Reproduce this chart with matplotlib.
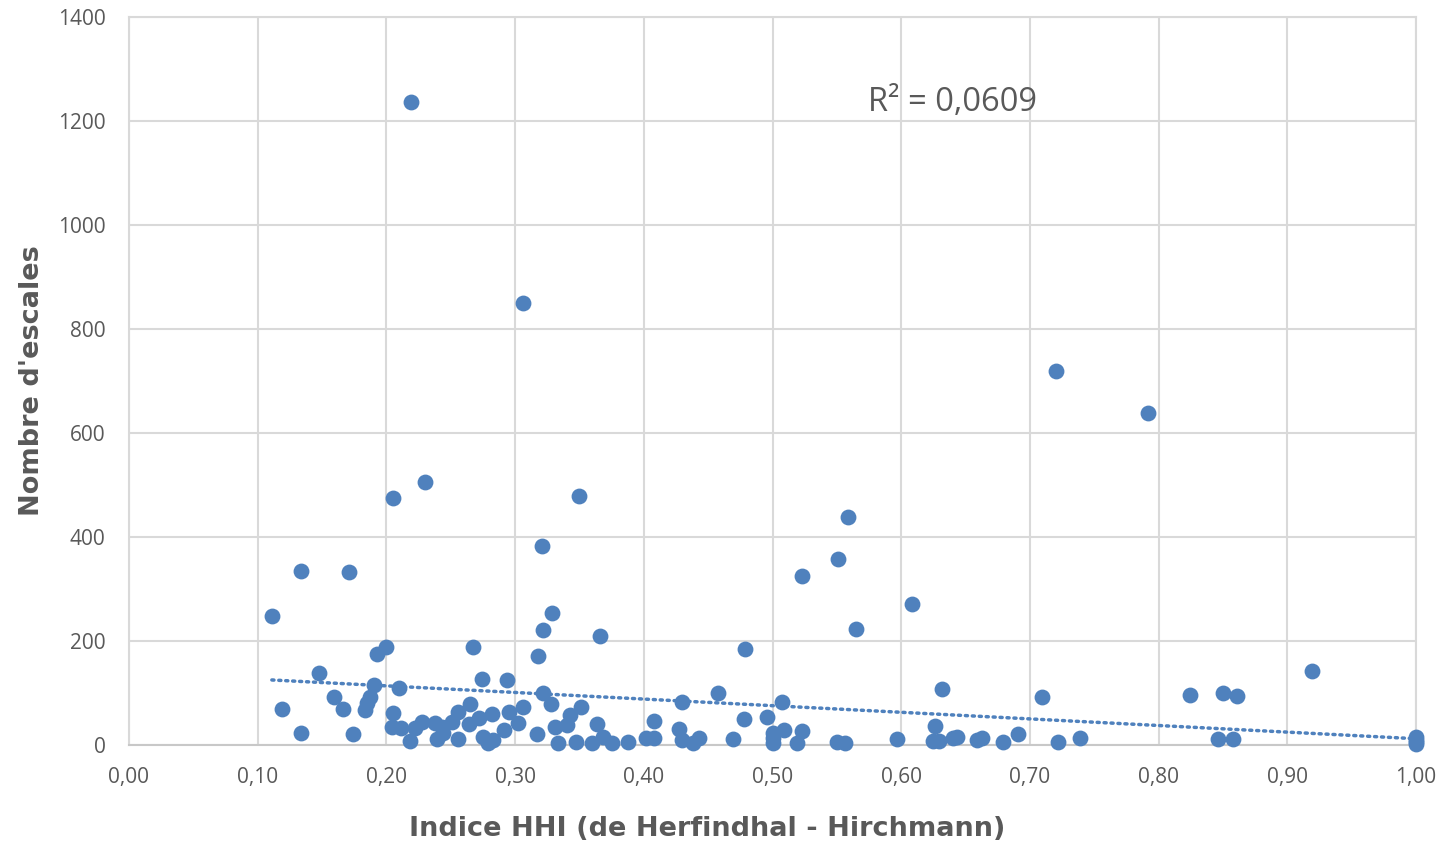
import matplotlib.pyplot as plt
import numpy as np

# =========================
# DADOS
# =========================

hhi = [0.111, 0.119, 0.134, 0.134, 0.148, 0.159, 0.166, 0.171, 0.174, 0.183,
       0.185, 0.187, 0.190, 0.193, 0.200, 0.205, 0.205, 0.204, 0.210, 0.211,
       0.218, 0.219, 0.222, 0.228, 0.230, 0.238, 0.239, 0.244, 0.243, 0.251,
       0.256, 0.256, 0.264, 0.265, 0.267, 0.272, 0.274, 0.275, 0.279, 0.282,
       0.283, 0.291, 0.294, 0.295, 0.302, 0.306, 0.306, 0.317, 0.318, 0.322,
       0.321, 0.322, 0.328, 0.329, 0.331, 0.333, 0.340, 0.343, 0.347, 0.350,
       0.351, 0.360, 0.364, 0.366, 0.368, 0.375, 0.388, 0.402, 0.408, 0.408,
       0.427, 0.430, 0.430, 0.438, 0.443, 0.458, 0.469, 0.478, 0.479, 0.496,
       0.500, 0.500, 0.500, 0.507, 0.509, 0.519, 0.523, 0.523, 0.550, 0.556,
       0.551, 0.559, 0.565, 0.597, 0.608, 0.625, 0.629, 0.626, 0.632, 0.640,
       0.643, 0.659, 0.663, 0.679, 0.691, 0.709, 0.720, 0.722, 0.739, 0.792,
       0.824, 0.846, 0.850, 0.858, 0.861, 0.919, 1.000, 1.000, 1.000, 1.000]

escales = [248, 69, 23, 335, 138, 92, 69, 333, 21, 67,
           81, 92, 115, 175, 188, 475, 62, 35, 110, 33,
           8, 1237, 33, 44, 506, 42, 12, 23, 35, 44,
           63, 12, 40, 79, 188, 52, 127, 15, 4, 60,
           10, 29, 125, 63, 42, 73, 850, 21, 171, 221,
           383, 100, 79, 254, 35, 4, 38, 58, 6, 479,
           73, 4, 40, 210, 15, 4, 6, 13, 13, 46,
           31, 83, 10, 4, 13, 100, 12, 50, 185, 54,
           23, 4, 13, 83, 29, 4, 27, 325, 6, 4,
           358, 438, 223, 12, 271, 8, 8, 37, 108, 13,
           15, 10, 13, 6, 21, 92, 719, 6, 13, 638,
           96, 12, 100, 12, 94, 142, 2, 5, 10, 15]

# linha de tendência (extremos)
trend_x = [0.111, 1.0]
trend_y = [125, 12]

x_ticks = np.arange(0, 1.01, 0.1)
y_ticks = np.arange(0, 1401, 200)
r2_label = "R² = 0,0609"

blue = "#4F81BD"
gray_text = "#595959"
grid_color = "#D9D9D9"

# =========================
# GRÁFICO
# =========================

fig = plt.figure(figsize=(14.51, 8.48), dpi=100)
ax = fig.add_axes([0.0889, 0.1215, 0.887, 0.8585])

ax.scatter(hhi, escales, s=130, color=blue, zorder=3, linewidths=0,
           clip_on=False)

ax.plot(trend_x, trend_y, color=blue, linewidth=2.5,
        linestyle=(0, (0.6, 1.4)), dash_capstyle="round", zorder=4)

ax.text(0.640, 1236, r2_label, fontsize=23.5, color=gray_text,
        ha="center", va="center", family="Open Sans")

ax.set_xlim(0, 1)
ax.set_ylim(0, 1400)
ax.set_xticks(x_ticks)
ax.set_yticks(y_ticks)
ax.set_xticklabels([f"{v:.2f}".replace(".", ",") for v in x_ticks])
ax.set_yticklabels([f"{int(v)}" for v in y_ticks])
ax.tick_params(length=0, labelsize=15, labelcolor=gray_text)
ax.tick_params(axis="y", pad=17)
ax.tick_params(axis="x", pad=16)
for lab in ax.get_xticklabels() + ax.get_yticklabels():
    lab.set_family("Open Sans")

ax.grid(True, color=grid_color, linewidth=1.5, zorder=0)
ax.set_axisbelow(True)
for s in ax.spines.values():
    s.set_color(grid_color)
    s.set_linewidth(1.5)
ax.spines["bottom"].set_color("#C8C8C8")

ax.set_xlabel("Indice HHI (de Herfindhal - Hirchmann)", fontsize=19.5,
              fontweight="bold", color=gray_text, labelpad=20, x=0.449)
ax.set_ylabel("Nombre d'escales", fontsize=19.5, fontweight="bold",
              color=gray_text, labelpad=9)

plt.savefig("out.png", dpi=100)
